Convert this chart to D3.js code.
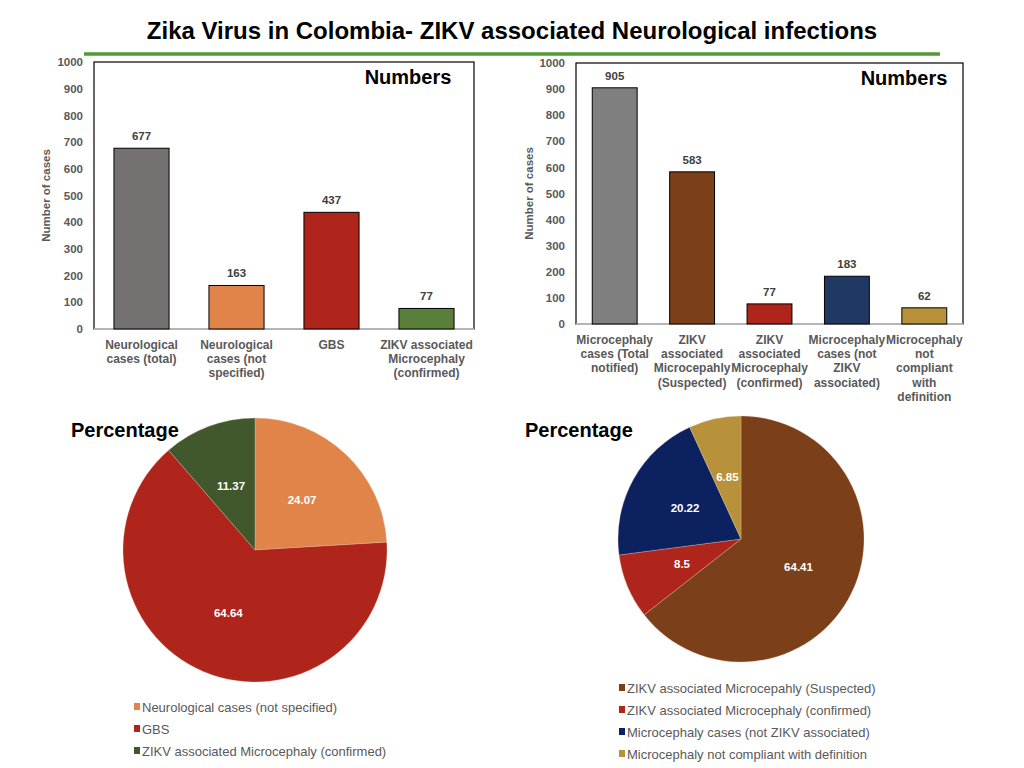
<!DOCTYPE html>
<html><head><meta charset="utf-8">
<script src="https://cdn.jsdelivr.net/npm/d3@7"></script>
<style>body{margin:0;background:#fff}svg{display:block}text{font-family:"Liberation Sans",Arial,sans-serif}</style>
</head><body>
<svg id="c" width="1024" height="768"></svg>
<script>
// ---- data ----
const titleText = "Zika Virus in Colombia- ZIKV associated Neurological infections";
const neuroCategories = ["Neurological\ncases (total)", "Neurological\ncases (not\nspecified)", "GBS", "ZIKV associated\nMicrocephaly\n(confirmed)"];
const neuroValues = [677, 163, 437, 77];
const neuroColors = ["#767171", "#e0844a", "#b0251b", "#5a7f3b"];
const microCategories = ["Microcephaly\ncases (Total\nnotified)", "ZIKV\nassociated\nMicrocepahly\n(Suspected)", "ZIKV\nassociated\nMicrocephaly\n(confirmed)", "Microcephaly\ncases (not\nZIKV\nassociated)", "Microcephaly\nnot\ncompliant\nwith\ndefinition"];
const microValues = [905, 583, 77, 183, 62];
const microColors = ["#7f7f7f", "#7b3f1a", "#b0251b", "#203864", "#b8923a"];
const yTicks = [0, 100, 200, 300, 400, 500, 600, 700, 800, 900, 1000];
const neuroPieLabels = ["Neurological cases (not specified)", "GBS", "ZIKV associated Microcephaly (confirmed)"];
const neuroPieValues = [24.07, 64.64, 11.37];
const neuroPieColors = ["#e0844a", "#b0251b", "#41572c"];
const microPieLabels = ["ZIKV associated Microcepahly (Suspected)", "ZIKV associated Microcephaly (confirmed)", "Microcephaly cases (not ZIKV associated)", "Microcephaly not compliant with definition"];
const microPieValues = [64.41, 8.5, 20.22, 6.85];
const microPieColors = ["#7b3f1a", "#b0251b", "#0c2160", "#b8923a"];

const svg = d3.select("#c");

// title
svg.append("text").attr("x", 512).attr("y", 39).attr("text-anchor", "middle")
  .attr("font-size", 24).attr("font-weight", "bold").attr("fill", "#000").text(titleText);
svg.append("line").attr("x1", 84).attr("x2", 940).attr("y1", 54).attr("y2", 54)
  .attr("stroke", "#4f9a34").attr("stroke-width", 3.5);

function barChart(cfg) {
  const {x0, x1, y0, y1, cats, vals, cols, labelX, numbersX, lineH} = cfg;
  const x = d3.scaleBand().domain(cats).range([x0, x1]).paddingInner(0.42).paddingOuter(0.21);
  const y = d3.scaleLinear().domain([0, 1000]).range([y1, y0]);
  const g = svg.append("g");
  g.append("rect").attr("x", x0).attr("y", y0).attr("width", x1 - x0).attr("height", y1 - y0)
    .attr("fill", "none").attr("stroke", "#000").attr("stroke-width", 1.2);
  g.append("line").attr("x1", x0).attr("x2", x1).attr("y1", y1).attr("y2", y1)
    .attr("stroke", "#d0d0d0").attr("stroke-width", 1.5);
  const ax = g.append("g").attr("transform", `translate(${x0 - 11},0)`)
    .call(d3.axisLeft(y).tickValues(yTicks).tickFormat(d3.format("d")).tickSize(0).tickPadding(0));
  ax.select(".domain").remove();
  ax.selectAll("text").attr("font-size", 11.5).attr("font-weight", "bold").attr("fill", "#595959")
    .attr("font-family", '"Liberation Sans",Arial,sans-serif');
  g.append("text").attr("transform", `translate(${labelX},${(y0 + y1) / 2}) rotate(-90)`)
    .attr("text-anchor", "middle").attr("font-size", 11.5).attr("font-weight", "bold")
    .attr("fill", "#595959").text("Number of cases");
  g.selectAll(".bar").data(vals).join("rect")
    .attr("x", (d, i) => x(cats[i])).attr("width", x.bandwidth())
    .attr("y", d => y(d)).attr("height", d => y(0) - y(d))
    .attr("fill", (d, i) => cols[i]).attr("stroke", "#000").attr("stroke-width", 1);
  g.selectAll(".val").data(vals).join("text")
    .attr("x", (d, i) => x(cats[i]) + x.bandwidth() / 2).attr("y", d => y(d) - 8)
    .attr("text-anchor", "middle").attr("font-size", 11.5).attr("font-weight", "bold")
    .attr("fill", "#404040").text(d => d);
  cats.forEach((c, i) => {
    const t = g.append("text").attr("text-anchor", "middle").attr("font-size", 12)
      .attr("font-weight", "bold").attr("fill", "#595959");
    c.split("\n").forEach((ln, j) => {
      t.append("tspan").attr("x", x(c) + x.bandwidth() / 2).attr("y", y1 + 20 + j * lineH).text(ln);
    });
  });
  g.append("text").attr("x", numbersX).attr("y", y0 + 22).attr("text-anchor", "middle")
    .attr("font-size", 20).attr("font-weight", "bold").attr("fill", "#000").text("Numbers");
}

barChart({x0: 94, x1: 474, y0: 62, y1: 329, cats: neuroCategories, vals: neuroValues, cols: neuroColors, labelX: 50, numbersX: 408, lineH: 14});
barChart({x0: 576, x1: 963, y0: 63, y1: 324, cats: microCategories, vals: microValues, cols: microColors, labelX: 533, numbersX: 904, lineH: 14.2});

function pieChart(cfg) {
  const {cx, cy, r, vals, cols, labels, titleX, legX, legY, legStep} = cfg;
  const pie = d3.pie().sort(null).value(d => d);
  const arcs = pie(vals);
  const arc = d3.arc().innerRadius(0).outerRadius(r);
  const larc = d3.arc().innerRadius(r * 0.52).outerRadius(r * 0.52);
  const g = svg.append("g").attr("transform", `translate(${cx},${cy})`);
  g.selectAll("path").data(arcs).join("path").attr("d", arc)
    .attr("fill", (d, i) => cols[i]).attr("stroke", "#e8d0c0").attr("stroke-width", 0.3);
  g.selectAll(".pl").data(arcs).join("text")
    .attr("transform", d => `translate(${larc.centroid(d)})`).attr("dy", "0.35em")
    .attr("text-anchor", "middle").attr("font-size", 11.5).attr("font-weight", "bold")
    .attr("fill", "#fff").text(d => d.data);
  svg.append("text").attr("x", titleX).attr("y", 437).attr("font-size", 20)
    .attr("font-weight", "bold").attr("fill", "#000").text("Percentage");
  const lg = svg.append("g");
  labels.forEach((l, i) => {
    lg.append("rect").attr("x", legX).attr("y", legY + i * legStep - 4).attr("width", 6).attr("height", 7)
      .attr("fill", cols[i]);
    lg.append("text").attr("x", legX + 8).attr("y", legY + i * legStep).attr("dy", "0.35em")
      .attr("font-size", 13).attr("fill", "#595959").text(l);
  });
}

pieChart({cx: 255, cy: 550, r: 132, vals: neuroPieValues, cols: neuroPieColors, labels: neuroPieLabels, titleX: 71, legX: 134, legY: 707, legStep: 22});
pieChart({cx: 741, cy: 539, r: 123, vals: microPieValues, cols: microPieColors, labels: microPieLabels, titleX: 525, legX: 619, legY: 688, legStep: 22});
</script>
</body></html>
